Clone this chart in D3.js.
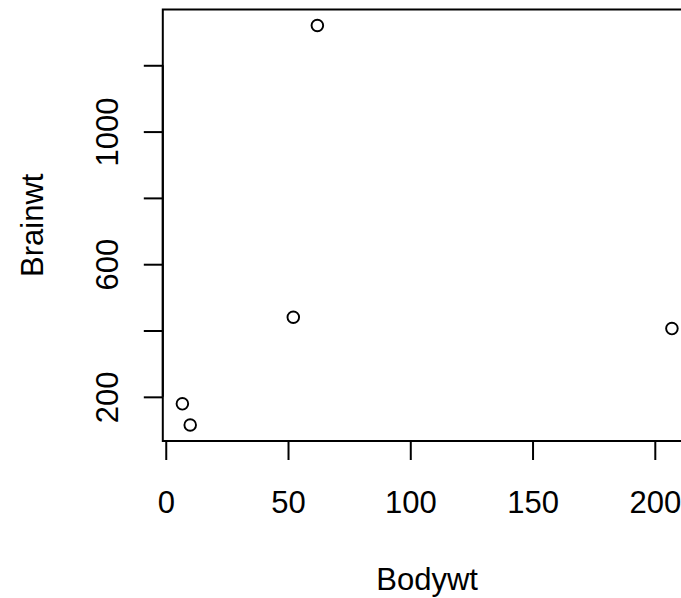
<!DOCTYPE html>
<html lang="en">
  <head>
    <meta charset="UTF-8" />
    <title>Brainwt vs Bodywt</title>
    <script src="https://d3js.org/d3.v7.min.js"></script>
    <style>
      body {
        margin: 0;
        background: #fff;
      }
      svg text {
        font-family: "Liberation Sans", Arial, sans-serif;
        font-size: 31px;
        fill: #000;
      }
    </style>
  </head>
  <body>
    <svg width="681" height="598"></svg>

    <script>
      // values
      const species = ["Human", "Chimpanzee", "Gorilla", "Rhesus monkey", "Patas monkey"];
      const bodywt = [62, 52.16, 207, 6.8, 10];
      const brainwt = [1320, 440, 406, 179, 115];

      const xTicks = [0, 50, 100, 150, 200];
      const yTicks = [200, 400, 600, 800, 1000, 1200];
      const yLabels = [200, 600, 1000]; // R drops the labels that would overlap

      const svg = d3.select("svg");

      // R style limits: data range stretched by 4% on each side
      function rRange(v) {
        const [lo, hi] = d3.extent(v);
        const pad = (hi - lo) * 0.04;
        return [lo - pad, hi + pad];
      }

      const x = d3.scaleLinear().domain(rRange(bodywt)).range([162.8, 691.5]);
      const y = d3.scaleLinear().domain(rRange(brainwt)).range([441, 9.5]);

      // plot box
      svg
        .append("rect")
        .attr("x", x.range()[0])
        .attr("y", y.range()[1])
        .attr("width", x.range()[1] - x.range()[0])
        .attr("height", y.range()[0] - y.range()[1])
        .attr("fill", "none")
        .attr("stroke", "#000")
        .attr("stroke-width", 2);

      // x axis
      const xAxis = d3
        .axisBottom(x)
        .tickValues(xTicks)
        .tickSize(19)
        .tickSizeOuter(0);

      const gx = svg
        .append("g")
        .attr("transform", `translate(0,${y.range()[0]})`)
        .call(xAxis)
        .attr("font-size", null)
        .attr("font-family", null);
      gx.select(".domain")
        .attr("d", `M${x(xTicks[0])},0H${x(xTicks[xTicks.length - 1])}`)
        .attr("stroke-width", 2);
      gx.selectAll(".tick line").attr("stroke-width", 2);
      gx.selectAll(".tick text").attr("dy", null).attr("y", 71.5);

      // y axis
      const yAxis = d3
        .axisLeft(y)
        .tickValues(yTicks)
        .tickSize(19)
        .tickSizeOuter(0)
        .tickFormat((d) => (yLabels.includes(d) ? d : ""));

      const gy = svg
        .append("g")
        .attr("transform", `translate(${x.range()[0]},0)`)
        .call(yAxis)
        .attr("font-size", null)
        .attr("font-family", null);
      gy.select(".domain")
        .attr("d", `M0,${y(yTicks[0])}V${y(yTicks[yTicks.length - 1])}`)
        .attr("stroke-width", 2);
      gy.selectAll(".tick line").attr("stroke-width", 2);
      gy.selectAll(".tick text")
        .attr("x", null)
        .attr("dy", null)
        .attr("text-anchor", "middle")
        .attr("transform", "translate(-45,0) rotate(-90)");

      // points
      svg
        .append("g")
        .selectAll("circle")
        .data(species)
        .join("circle")
        .attr("cx", (d, i) => x(bodywt[i]))
        .attr("cy", (d, i) => y(brainwt[i]))
        .attr("r", 5.8)
        .attr("fill", "none")
        .attr("stroke", "#000")
        .attr("stroke-width", 1.9);

      // axis titles
      svg
        .append("text")
        .attr("x", (x.range()[0] + x.range()[1]) / 2)
        .attr("y", 590)
        .attr("text-anchor", "middle")
        .text("Bodywt");

      svg
        .append("text")
        .attr("text-anchor", "middle")
        .attr("transform", `translate(42.5,${(y.range()[0] + y.range()[1]) / 2}) rotate(-90)`)
        .text("Brainwt");
    </script>
  </body>
</html>
